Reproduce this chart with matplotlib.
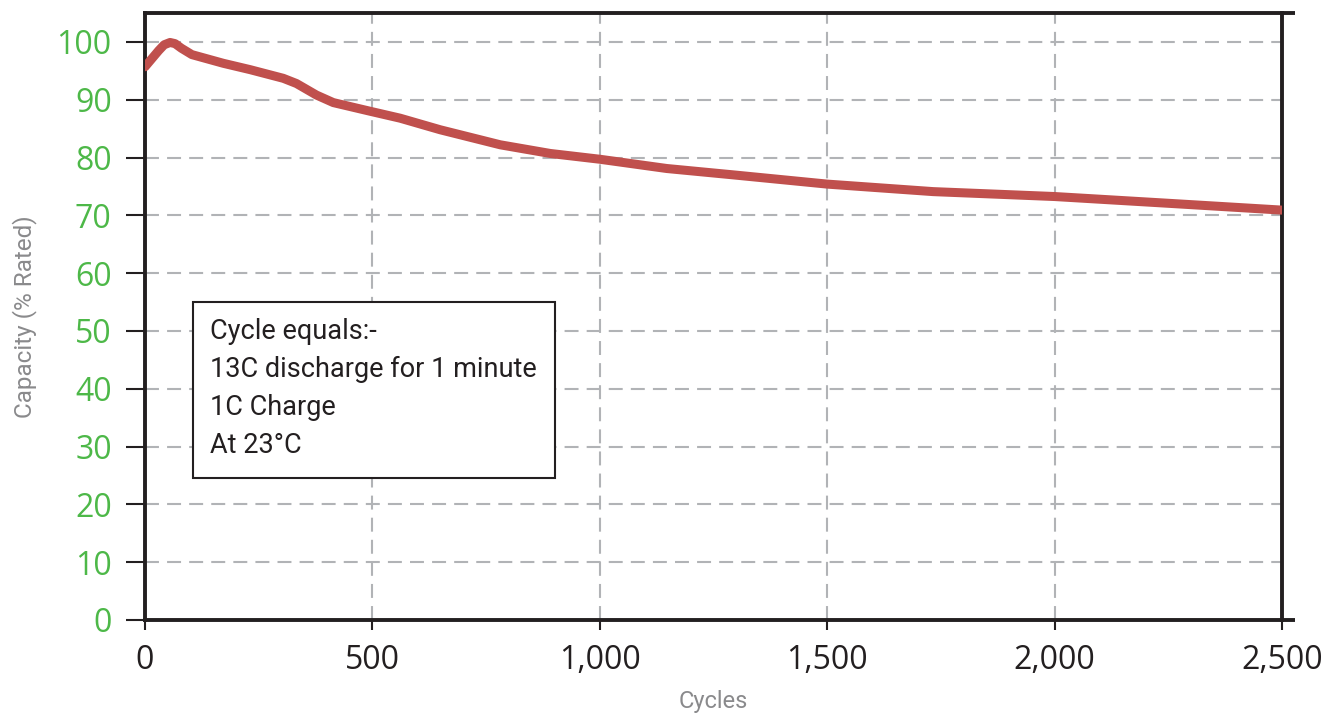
import matplotlib
matplotlib.use("Agg")
import matplotlib.pyplot as plt
from matplotlib.patches import Rectangle
from matplotlib.ticker import FuncFormatter

# capacity fade
cycles = [0, 30, 42, 55, 66, 80, 103, 172, 231, 304, 333, 377, 414, 495, 561,
          649, 781, 891, 1000, 1147, 1293, 1500, 1733, 2000, 2246, 2500]
capacity = [95.7, 98.5, 99.5, 99.9, 99.7, 98.9, 97.8, 96.3, 95.2, 93.7, 92.8,
            90.8, 89.5, 88.0, 86.8, 84.8, 82.2, 80.7, 79.7, 78.1, 77.0, 75.4,
            74.1, 73.25, 72.1, 70.9]

x_ticks = [0, 500, 1000, 1500, 2000, 2500]
y_ticks = [0, 10, 20, 30, 40, 50, 60, 70, 80, 90, 100]
note_lines = ["Cycle equals:-", "13C discharge for 1 minute", "1C Charge", "At 23°C"]

INK = "#231f20"
GREEN = "#4db848"
GRID = "#b1b3b6"
LINE = "#c0504d"
LABEL = "#8a8a8c"
NARROW = ["Roboto", "DejaVu Sans"]
TICKFONT = ["Open Sans", "DejaVu Sans"]

fig = plt.figure(figsize=(13.27, 7.14), dpi=100)
ax = fig.add_axes([0.1093, 0.1317, 0.8568, 0.8501])

ax.plot(cycles, capacity, color=LINE, lw=6.5, solid_capstyle="round",
        solid_joinstyle="round", zorder=3)

ax.set_xlim(0, 2500)
ax.set_ylim(0, 105)
ax.set_xticks(x_ticks)
ax.set_yticks(y_ticks)
ax.xaxis.set_major_formatter(FuncFormatter(lambda v, p: f"{int(v):,}"))

ax.grid(True, color=GRID, lw=1.5, linestyle=(0, (6.7, 3.9)))
ax.set_axisbelow(True)

for side in ["left", "top", "bottom", "right"]:
    ax.spines[side].set_linewidth(2.8)
    ax.spines[side].set_color(INK)
# top and bottom frame lines run a little past the right edge
for yy in (0, 1):
    ax.plot([1.0, 1.0115], [yy, yy], transform=ax.transAxes, color=INK,
            lw=2.8, solid_capstyle="butt", clip_on=False, zorder=4)

ax.tick_params(axis="y", direction="out", length=14, width=1.5, color=INK,
               labelcolor=GREEN, labelsize=23, pad=10)
ax.tick_params(axis="x", direction="out", length=7, width=1.5, color=INK,
               labelcolor=INK, labelsize=23, pad=10)
for lab in ax.get_xticklabels() + ax.get_yticklabels():
    lab.set_family(TICKFONT)

ax.set_xlabel("Cycles", color=LABEL, fontsize=17, family=NARROW, labelpad=10)
ax.set_ylabel("Capacity (% Rated)", color=LABEL, fontsize=17.5, family=NARROW, labelpad=14)

# note box
ax.add_patch(Rectangle((0.0422, 0.234), 0.3184, 0.29, transform=ax.transAxes,
                       facecolor="white", edgecolor=INK, lw=1.5, zorder=5))
for i, line in enumerate(note_lines):
    ax.text(0.0572, 0.4745 - i * 0.0626, line, transform=ax.transAxes,
            va="center", ha="left", fontsize=19.5, family=NARROW, color=INK, zorder=6)

fig.savefig("out.png", dpi=100, facecolor="white")
